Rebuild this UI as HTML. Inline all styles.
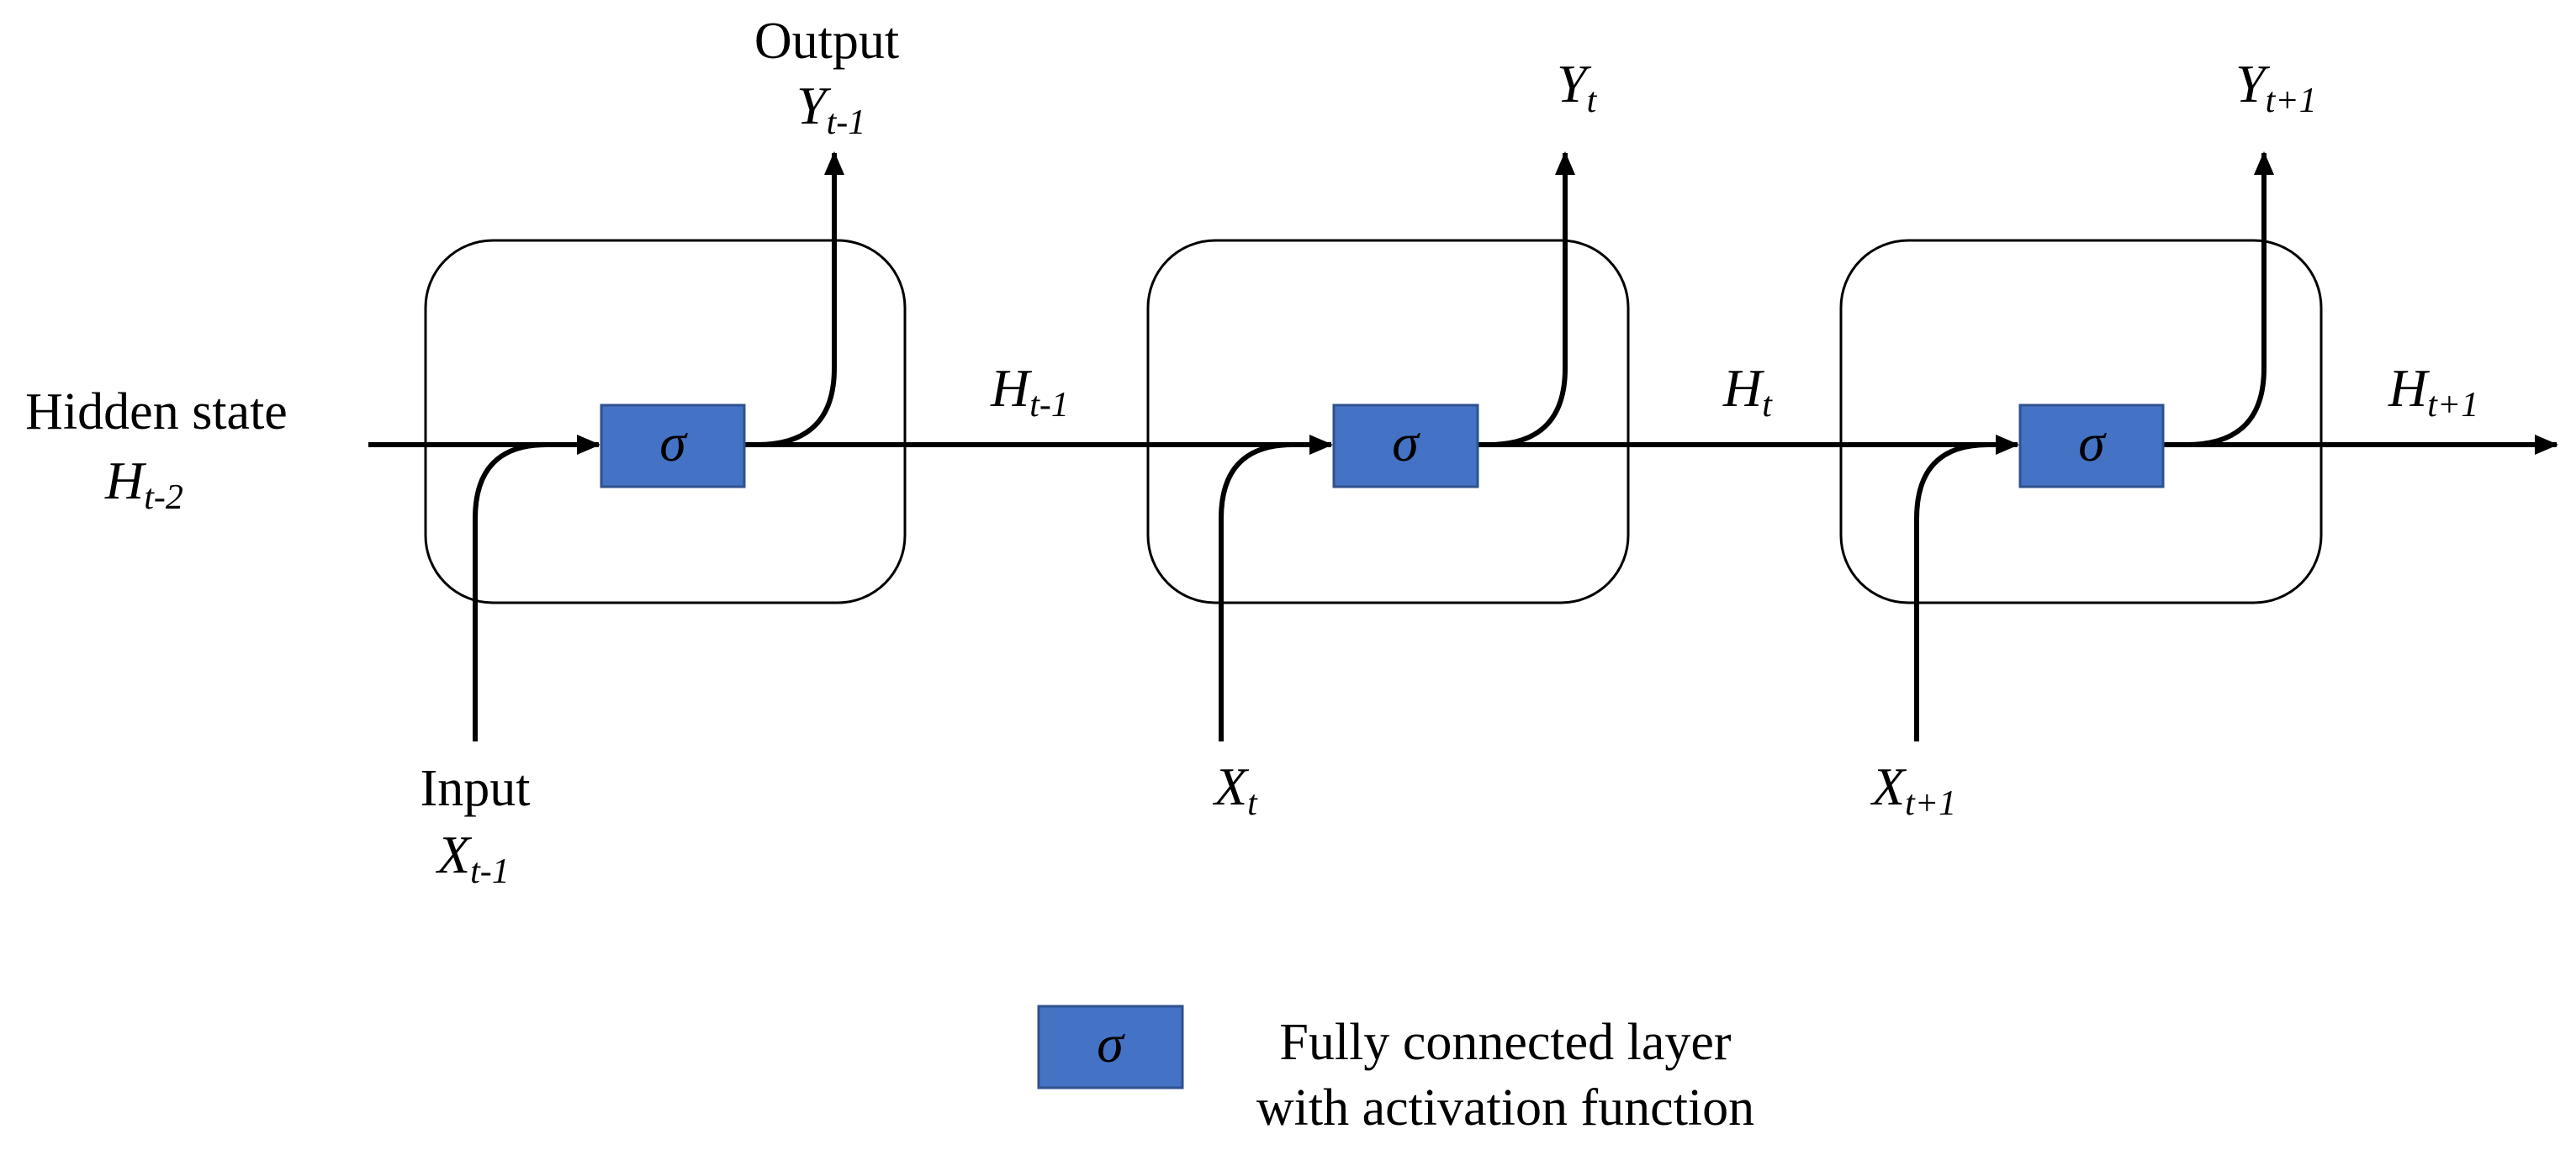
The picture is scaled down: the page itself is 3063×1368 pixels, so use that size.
<!DOCTYPE html>
<html><head><meta charset="utf-8"><style>
html,body{margin:0;padding:0;background:#fff;width:3063px;height:1368px;overflow:hidden}
text{font-family:"Liberation Serif",serif;fill:#000}
.l{font-size:62px}
.i{font-size:64px;font-style:italic}
.s{font-size:42px;font-style:italic}
</style></head><body>
<svg width="3063" height="1368" viewBox="0 0 3063 1368" xmlns="http://www.w3.org/2000/svg">
<defs><marker id="a" markerWidth="28" markerHeight="24" refX="26" refY="12" orient="auto" markerUnits="userSpaceOnUse"><path d="M0,0 L28,12 L0,24 z" fill="#000"/></marker></defs>
<g fill="none" stroke="#000" stroke-width="3">
<rect x="506" y="286" width="570" height="431" rx="80"/>
<rect x="1365" y="286" width="571" height="431" rx="80"/>
<rect x="2189" y="286" width="571" height="431" rx="80"/>
</g>
<g fill="none" stroke="#000" stroke-width="6">
<line x1="438" y1="529" x2="712" y2="529" marker-end="url(#a)"/>
<line x1="885" y1="529" x2="1583" y2="529" marker-end="url(#a)"/>
<line x1="1757" y1="529" x2="2399" y2="529" marker-end="url(#a)"/>
<line x1="2572" y1="529" x2="3040" y2="529" marker-end="url(#a)"/>
<path d="M565,882 V617 Q565,529 650,529"/>
<path d="M1452,882 V617 Q1452,529 1537,529"/>
<path d="M2279,882 V617 Q2279,529 2364,529"/>
<path d="M900,529 Q992,529 992,438 V182" marker-end="url(#a)"/>
<path d="M1770,529 Q1861,529 1861,438 V182" marker-end="url(#a)"/>
<path d="M2600,529 Q2692,529 2692,438 V182" marker-end="url(#a)"/>
</g>
<g fill="#4472c4" stroke="#2f528f" stroke-width="3">
<rect x="715" y="482" width="170" height="97"/>
<rect x="1586" y="482" width="171" height="97"/>
<rect x="2402" y="482" width="170" height="97"/>
<rect x="1235" y="1197" width="171" height="97"/>
</g>
<g class="i" text-anchor="middle">
<text x="800" y="548">σ</text><text x="1671" y="548">σ</text><text x="2487" y="548">σ</text><text x="1320" y="1263">σ</text>
</g>
<text class="l" x="983" y="69" text-anchor="middle">Output</text>
<text x="947" y="147"><tspan class="i">Y</tspan><tspan class="s" dy="12">t-1</tspan></text>
<text class="l" x="186" y="510" text-anchor="middle">Hidden state</text>
<text x="125" y="593"><tspan class="i">H</tspan><tspan class="s" dy="12">t-2</tspan></text>
<text class="l" x="565" y="958" text-anchor="middle">Input</text>
<text x="520" y="1038"><tspan class="i">X</tspan><tspan class="s" dy="12">t-1</tspan></text>
<text x="1178" y="483"><tspan class="i">H</tspan><tspan class="s" dy="12">t-1</tspan></text>
<text x="2049" y="483"><tspan class="i">H</tspan><tspan class="s" dy="12">t</tspan></text>
<text x="2840" y="483"><tspan class="i">H</tspan><tspan class="s" dy="12">t+1</tspan></text>
<text x="1851" y="121"><tspan class="i">Y</tspan><tspan class="s" dy="12">t</tspan></text>
<text x="2658" y="121"><tspan class="i">Y</tspan><tspan class="s" dy="12">t+1</tspan></text>
<text x="1444" y="957"><tspan class="i">X</tspan><tspan class="s" dy="12">t</tspan></text>
<text x="2226" y="957"><tspan class="i">X</tspan><tspan class="s" dy="12">t+1</tspan></text>
<text class="l" x="1790" y="1260" text-anchor="middle">Fully connected layer</text>
<text class="l" x="1790" y="1338" text-anchor="middle">with activation function</text>
</svg>
</body></html>
